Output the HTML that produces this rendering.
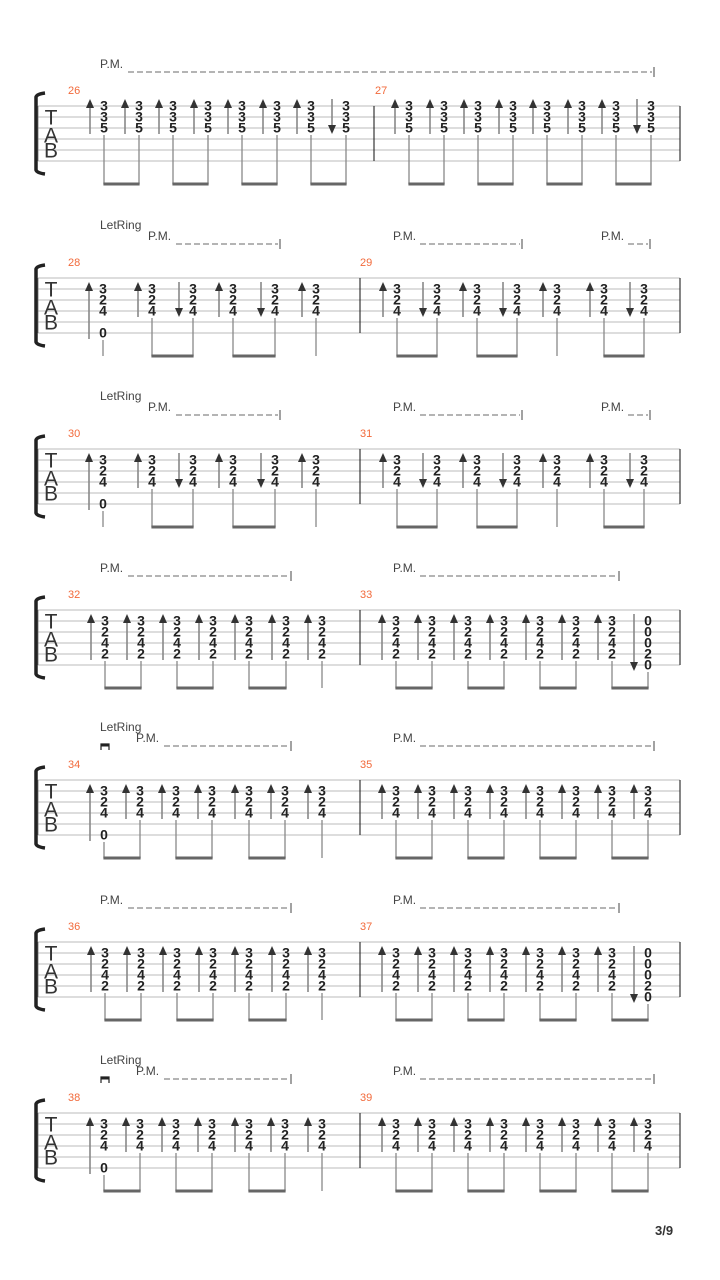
<!DOCTYPE html>
<html><head><meta charset="utf-8"><style>
html,body{margin:0;padding:0;background:#fff;width:720px;height:1280px;overflow:hidden}
svg{display:block}
text{font-family:"Liberation Sans",sans-serif}
</style></head><body>
<svg id="s" width="720" height="1280" xmlns="http://www.w3.org/2000/svg">
<text x="655" y="1235" font-size="13" font-weight="bold" fill="#333">3/9</text>
</svg>
<script>
const S=document.getElementById('s');const NS='http://www.w3.org/2000/svg';
function el(t,a,txt){const e=document.createElementNS(NS,t);for(const k in a)e.setAttribute(k,a[k]);if(txt!==undefined)e.textContent=txt;S.appendChild(e);return e;}
function line(x1,y1,x2,y2,c,w,d){const a={x1,y1,x2,y2,stroke:c,'stroke-width':w};if(d)a['stroke-dasharray']=d;el('line',a);}
function txt(x,y,s,o){el('text',Object.assign({x,y,'font-size':13,fill:'#222','text-anchor':'middle','dominant-baseline':'central'},o||{}),s);}
function dig(x,y,s){el('text',{x,y,'font-size':14,'font-weight':'bold',fill:'#222','text-anchor':'middle','dominant-baseline':'central','font-family':'"DejaVu Sans Condensed","DejaVu Sans",sans-serif'},s);}
function arrow(x,y1,y2,dir){
 if(dir==='u'){line(x,y1+8,x,y2,'#888',1.6);el('polygon',{points:`${x-4},${y1+9} ${x+4},${y1+9} ${x},${y1}`,fill:'#333'});}
 else{line(x,y1,x,y2-8,'#888',1.6);el('polygon',{points:`${x-4},${y2-9} ${x+4},${y2-9} ${x},${y2}`,fill:'#333'});}
}
function system(top,barX,nums){
 const L=i=>top+i*11;
 for(let i=0;i<6;i++)line(38,L(i),680,L(i),'#bbb',1);
 line(38,L(0),38,L(5),'#888',1);
 line(barX,L(0),barX,L(5),'#222',1.1);
 line(680,L(0),680,L(5),'#222',1.1);
 el('path',{d:`M45,${top-13} Q37,${top-12} 36,${top-9} L36,${top+64} Q37,${top+67} 45,${top+68}`,stroke:'#222','stroke-width':3.5,fill:'none'});
 txt(51,top+12,'T',{'font-size':21,fill:'#333','font-family':'"DejaVu Sans",sans-serif','font-weight':'200'});
 txt(51,top+30,'A',{'font-size':21,fill:'#333','font-family':'"DejaVu Sans",sans-serif'});
 txt(51,top+45,'B',{'font-size':21,fill:'#333','font-family':'"DejaVu Sans",sans-serif'});
 nums.forEach(n=>el('text',{x:n[1],y:top-12,'font-size':11,fill:'#f26a3b'},n[0]));
}
function measure(top,chords,beams){
 const L=i=>top+(i-1)*11;const by=top+78;
 chords.forEach(c=>{
  const ss=Object.keys(c.f).map(Number);const mn=Math.min(...ss),mx=Math.max(...ss);
  for(const s of ss)dig(c.x,L(s)-0.5,c.f[s]);
  line(c.x,L(mx)+7,c.x,by,'#888',1.3);
  const ab=c.along?L(6)+6:L(mx)+6;
  arrow(c.x-14,L(mn)-7,ab,c.a);
 });
 beams.forEach(b=>{if(b.length>1)line(chords[b[0]].x-0.6,by,chords[b[1]].x+0.6,by,'#666',3);});
}
function pm(top,x,x1,x2){
 el('text',{x,y:top-38,'font-size':12,fill:'#444'},'P.M.');
 line(x1,top-34,x2,top-34,'#888',1.3,'6,3');
 line(x2+2,top-39,x2+2,top-29,'#444',1);
}
function letring(top){el('text',{x:100,y:top-49,'font-size':12,fill:'#444'},'LetRing');}
function box(top){el('path',{d:`M101,${top-30} L101,${top-36} L109,${top-36} L109,${top-30}`,stroke:'#222','stroke-width':1.2,fill:'none'});el('rect',{x:101,y:top-36,width:8,height:2.5,fill:'#222'});}
const P=[[0,1],[2,3],[4,5],[6,7]];
(function(){const t=106;system(t,374,[['26',68],['27',375]]);
 [104,409].forEach(b=>{const ch=[];for(let k=0;k<8;k++)ch.push({x:Math.round(b+k*34.5),f:{1:3,2:3,3:5},a:k==7?'d':'u'});measure(t,ch,P);});
 pm(t,100,128,652);})();
[[278,'28','29'],[449,'30','31']].forEach(([t,a,b])=>{system(t,360,[[a,68],[b,360]]);
 const f={2:3,3:2,4:4};
 measure(t,[103,152,193,233,275,316].map((x,i)=>({x,f:i==0?{2:3,3:2,4:4,6:0}:f,a:'uudud u'.replace(' ','')[i],along:i==0})),[[0],[1,2],[3,4],[5]]);
 measure(t,[397,437,477,517,557,604,644].map((x,i)=>({x,f,a:'ududuud'[i]})),[[0,1],[2,3],[4],[5,6]]);
 letring(t);pm(t,148,176,278);pm(t,393,420,520);pm(t,601,628,648);});
[[610,'32','33'],[942,'36','37']].forEach(([t,a,b])=>{system(t,360,[[a,68],[b,360]]);
 const f={2:3,3:2,4:4,5:2};
 measure(t,[105,141,177,213,249,286,322].map(x=>({x,f,a:'u'})),[[0,1],[2,3],[4,5],[6]]);
 const ch=[];for(let k=0;k<8;k++)ch.push({x:396+k*36,f:k==7?{2:0,3:0,4:0,5:2,6:0}:f,a:k==7?'d':'u'});
 measure(t,ch,P);
 pm(t,100,128,289);pm(t,393,420,617);});
[[780,'34','35'],[1113,'38','39']].forEach(([t,a,b])=>{system(t,360,[[a,68],[b,360]]);
 const f={2:3,3:2,4:4};
 measure(t,[104,140,176,212,249,285,322].map((x,i)=>({x,f:i==0?{2:3,3:2,4:4,6:0}:f,a:'u',along:i==0})),[[0,1],[2,3],[4,5],[6]]);
 const ch=[];for(let k=0;k<8;k++)ch.push({x:396+k*36,f,a:'u'});measure(t,ch,P);
 letring(t);box(t);pm(t,136,164,289);pm(t,393,420,652);});
</script>
</body></html>
